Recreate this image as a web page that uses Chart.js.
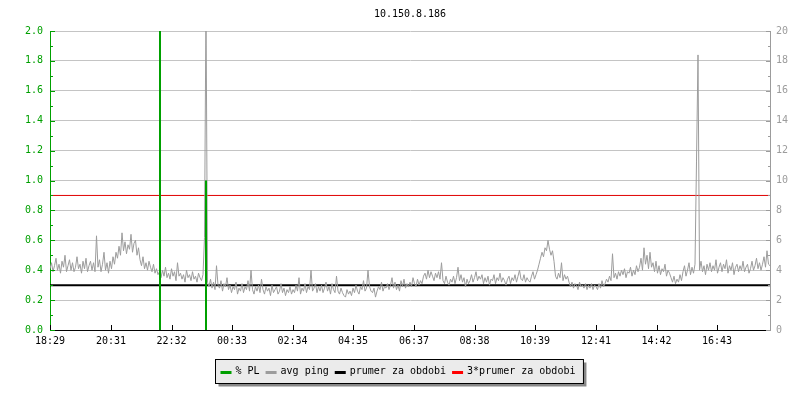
<!DOCTYPE html>
<html>
<head>
<meta charset="utf-8">
<script src="https://cdn.jsdelivr.net/npm/chart.js@4/dist/chart.umd.min.js"></script>
<style>
  html, body { margin: 0; padding: 0; background: #fff; }
  #wrap { width: 800px; height: 400px; }
</style>
</head>
<body>
<div id="wrap"><canvas id="pingChart" width="800" height="400"></canvas></div>
<script>
// x axis: minutes since 18:29
const tickTimes = [0, 122, 243, 364, 485, 606, 728, 849, 970, 1092, 1213, 1334];
const tickLabels = ['18:29', '20:31', '22:32', '00:33', '02:34', '04:35', '06:37', '08:38', '10:39', '12:41', '14:42', '16:43'];

// avg ping (ms), one sample every 3 minutes
const pingStep = 3;
const pingValues = [
  4.1, 4.5, 3.9, 4.3, 4.8, 4.0, 4.4, 3.8, 4.6, 4.2, 5.0, 3.9, 4.3, 4.7, 4.0, 4.5, 3.9, 4.2, 4.9, 4.1,
  4.4, 3.8, 4.6, 4.1, 4.8, 3.9, 4.3, 4.6, 4.0, 4.5, 3.9, 6.3, 4.2, 4.7, 3.9, 4.4, 5.2, 4.0, 4.5, 3.8,
  4.6, 4.1, 4.9, 4.4, 5.2, 4.8, 5.6, 5.0, 6.5, 5.3, 5.9, 5.1, 5.7, 5.4, 6.4, 5.2, 5.8, 6.0, 5.0, 5.5,
  4.7, 4.3, 4.9, 4.1, 4.5, 4.0, 4.6, 4.2, 3.9, 4.4, 3.8, 4.1, 3.7, 3.9, 3.5, 4.0, 3.6, 4.2, 3.5, 3.8,
  3.4, 4.1, 3.6, 3.9, 3.3, 4.5, 3.6, 3.8, 3.4, 3.7, 3.2, 4.0, 3.5, 3.7, 3.3, 3.9, 3.4, 3.6, 3.2, 3.8,
  3.5, 3.3, 3.7, 6.2, 22, 3.2, 2.9, 3.4, 2.8, 3.2, 2.7, 4.3, 3.0, 2.8, 3.3, 2.6, 3.1, 2.9, 3.5, 2.7,
  3.0, 2.5, 2.9, 2.7, 3.2, 2.4, 2.8, 2.6, 3.1, 2.5, 2.9, 2.7, 3.3, 2.6, 4.0, 2.7, 2.4, 2.9, 2.6, 3.0,
  2.5, 3.4, 2.7, 2.4, 2.9, 2.6, 2.8, 2.3, 3.0, 2.5, 2.7, 2.9, 2.4, 2.6, 3.1, 2.5, 2.8, 2.3, 2.7, 2.5,
  2.9, 2.4, 2.7, 2.5, 3.0, 2.6, 3.5, 2.4, 2.8, 2.6, 3.1, 2.5, 2.9, 2.7, 4.0, 2.6, 2.8, 3.1, 2.5, 2.9,
  2.6, 3.0, 2.5, 2.8, 3.2, 2.6, 2.9, 2.4, 3.1, 2.7, 2.5, 3.6, 2.6, 2.4, 2.8, 2.5, 2.3, 2.2, 2.7, 2.4,
  2.6, 2.3, 2.8, 2.5, 3.0, 2.6, 2.4, 2.9, 2.7, 3.3, 2.6, 2.8, 4.0, 2.9, 2.6, 2.5, 2.8, 2.2, 2.6, 2.9,
  2.7, 3.2, 2.6, 2.9, 2.8, 3.1, 2.7, 3.0, 3.5, 2.8, 3.2, 2.7, 3.0, 2.6, 3.3, 2.9, 3.4, 2.8, 3.1, 2.9,
  3.2, 2.9, 3.5, 3.1, 2.9, 3.4, 3.0, 3.3, 3.1, 3.6, 3.8, 3.4, 4.0, 3.5, 3.9, 3.6, 3.3, 3.8, 3.5, 3.9,
  3.4, 4.5, 3.3, 3.1, 3.6, 3.2, 3.0, 3.4, 3.2, 3.6, 3.1, 3.5, 4.2, 3.3, 3.7, 3.2, 3.5, 2.9, 3.4, 3.1,
  3.3, 3.7, 3.2, 3.5, 3.9, 3.3, 3.6, 3.4, 3.7, 3.1, 3.5, 3.2, 3.6, 3.0, 3.4, 3.3, 3.7, 3.1, 3.5, 3.3,
  3.8, 3.2, 3.5, 3.3, 3.0, 3.4, 3.6, 3.1, 3.5, 3.3, 3.7, 3.2, 3.6, 4.0, 3.4, 3.3, 3.7, 3.2, 3.5, 3.3,
  3.2, 3.6, 3.9, 3.4, 3.7, 4.0, 4.4, 4.8, 5.2, 4.9, 5.5, 5.3, 6.0, 5.4, 5.0, 5.3, 4.6, 3.6, 3.4, 3.8,
  3.5, 4.5, 3.3, 3.7, 3.4, 3.6, 3.2, 2.9, 3.2, 2.8, 3.1, 3.0, 2.7, 3.2, 2.9, 3.0, 2.8, 3.1, 2.7, 3.0,
  2.8, 3.1, 2.7, 3.0, 2.9, 2.7, 3.1, 2.8, 3.3, 2.9, 3.1, 3.4, 3.2, 3.6, 3.3, 5.1, 3.5, 3.8, 3.4, 3.9,
  3.6, 4.0, 3.7, 4.1, 3.5, 3.9, 3.8, 4.2, 3.6, 4.0, 3.7, 4.3, 3.9, 4.2, 4.8, 4.0, 5.5, 4.4, 5.0, 4.1,
  5.2, 4.2, 4.5, 3.9, 4.6, 3.8, 4.3, 3.7, 4.1, 3.9, 4.4, 3.6, 4.0, 3.8, 3.5, 3.2, 3.6, 3.1, 3.4, 3.2,
  3.7, 3.3, 3.9, 4.3, 3.6, 4.0, 4.5, 3.7, 4.2, 3.8, 4.4, 11.3, 18.4, 4.0, 4.6, 3.9, 4.3, 3.7, 4.4, 4.0,
  4.5, 3.9, 4.3, 4.0, 4.7, 3.8, 4.2, 4.5, 3.9, 4.4, 4.1, 4.7, 3.8, 4.3, 4.0, 4.5, 3.7, 4.2, 4.4, 3.9,
  4.3, 4.0, 4.6, 3.9, 4.2, 4.4, 3.8, 4.1, 4.6, 4.0, 4.3, 4.8, 4.1, 4.5, 4.0, 4.4, 4.9, 4.2, 5.3, 4.4,
  4.3
];

// packet loss (%), spikes only
const plTimes = [220, 220, 220, 266, 312, 312, 312];
const plValues = [0, 2.4, 0, null, 0, 1.0, 0];

// period averages (ms)
const prumerValue = 3.0;
const prumer3Value = 9.0;

const GREEN = '#00a000';
const GREY = '#9c9c9c';
const FONT = '"DejaVu Sans Mono", "Liberation Mono", monospace';

const pingPoints = pingValues.map((v, i) => ({ x: i * pingStep, y: v }));
const plPoints = plTimes.map((t, i) => ({ x: t, y: plValues[i] }));

const extras = {
  id: 'extras',
  afterDraw(chart) {
    const { ctx, chartArea: a, scales } = chart;
    ctx.save();
    ctx.lineWidth = 1;
    // inward tick marks
    ctx.strokeStyle = GREEN;
    for (let k = 0; k <= 20; k++) {
      const y = Math.round(scales.yL.getPixelForValue(k / 10)) + 0.5;
      ctx.beginPath(); ctx.moveTo(a.left, y); ctx.lineTo(a.left + (k % 2 ? 3 : 5), y); ctx.stroke();
    }
    ctx.strokeStyle = GREY;
    for (let k = 0; k <= 20; k++) {
      const y = Math.round(scales.yR.getPixelForValue(k)) + 0.5;
      ctx.beginPath(); ctx.moveTo(a.right, y); ctx.lineTo(a.right - (k % 2 ? 2 : 4), y); ctx.stroke();
    }
    ctx.strokeStyle = '#000';
    tickTimes.forEach(t => {
      const x = Math.round(scales.x.getPixelForValue(t)) + 0.5;
      ctx.beginPath(); ctx.moveTo(x, a.bottom); ctx.lineTo(x, a.bottom - 5); ctx.stroke();
    });

    // title
    ctx.font = '10px ' + FONT;
    ctx.fillStyle = '#000';
    ctx.textAlign = 'center';
    ctx.textBaseline = 'middle';
    ctx.fillText('10.150.8.186', (a.left + a.right) / 2, 14);

    // legend box with shadow
    const items = chart.data.datasets.map(d => ({ label: d.label, color: d.legendColor }));
    const widths = items.map(it => ctx.measureText(it.label).width);
    const boxW = 5 + widths.reduce((s, w) => s + 11 + 4 + w + 6, 0) + 2;
    const boxX = Math.round(399 - boxW / 2) + 0.5;
    const boxY = 359.5, boxH = 24;
    ctx.fillStyle = '#888';
    ctx.fillRect(boxX + 3, boxY + 3, boxW, boxH);
    ctx.fillStyle = '#ebebeb';
    ctx.fillRect(boxX, boxY, boxW, boxH);
    ctx.strokeStyle = '#000';
    ctx.strokeRect(boxX, boxY, boxW, boxH);
    let cx = boxX + 5;
    const cy = boxY + 12;
    ctx.textAlign = 'left';
    items.forEach((it, i) => {
      ctx.fillStyle = it.color;
      ctx.fillRect(cx, Math.round(cy) - 1, 11, 3);
      cx += 15;
      ctx.fillStyle = '#000';
      ctx.fillText(it.label, cx, cy);
      cx += widths[i] + 6;
    });
    ctx.restore();
  }
};

new Chart(document.getElementById('pingChart'), {
  type: 'line',
  data: {
    datasets: [
      { label: '% PL', data: plPoints, yAxisID: 'yL', borderColor: GREEN, legendColor: GREEN, borderWidth: 2, pointRadius: 0, spanGaps: false },
      { label: 'avg ping', data: pingPoints, yAxisID: 'yR', borderColor: GREY, legendColor: GREY, borderWidth: 1, pointRadius: 0 },
      { label: 'prumer za obdobi', data: [{ x: 0, y: prumerValue }, { x: 1440, y: prumerValue }], yAxisID: 'yR', borderColor: '#000', legendColor: '#000', borderWidth: 2, pointRadius: 0 },
      { label: '3*prumer za obdobi', data: [{ x: 0, y: prumer3Value }, { x: 1440, y: prumer3Value }], yAxisID: 'yR', borderColor: '#e00000', legendColor: '#ff0000', borderWidth: 1, pointRadius: 0 }
    ]
  },
  options: {
    responsive: false,
    animation: false,
    layout: { padding: { top: 31, left: 0, right: 0, bottom: 0 } },
    plugins: { legend: { display: false }, title: { display: false }, tooltip: { enabled: false } },
    scales: {
      x: {
        type: 'linear', min: 0, max: 1440,
        afterBuildTicks: s => { s.ticks = tickTimes.map(v => ({ value: v })); },
        afterFit: s => { s.height = 70; },
        ticks: { autoSkip: false, maxRotation: 0, padding: 5, color: '#000', font: { family: FONT, size: 10 }, callback: (v, i) => tickLabels[i] },
        grid: { display: false, drawTicks: false },
        border: { color: '#000', width: 1 }
      },
      yL: {
        position: 'left', min: 0, max: 2,
        afterFit: s => { s.width = 50; },
        ticks: { stepSize: 0.2, padding: 7, color: GREEN, font: { family: FONT, size: 10 }, callback: v => Number(v).toFixed(1) },
        grid: { drawTicks: false, color: c => (c.tick && c.tick.value === 0 ? 'rgba(0,0,0,0)' : '#c4c4c4') },
        border: { color: GREEN, width: 1 }
      },
      yR: {
        position: 'right', min: 0, max: 20,
        afterFit: s => { s.width = 30; },
        ticks: { stepSize: 2, padding: 6, color: GREY, font: { family: FONT, size: 10 } },
        grid: { display: false, drawTicks: false },
        border: { color: GREY, width: 1 }
      }
    }
  },
  plugins: [extras]
});
</script>
</body>
</html>
